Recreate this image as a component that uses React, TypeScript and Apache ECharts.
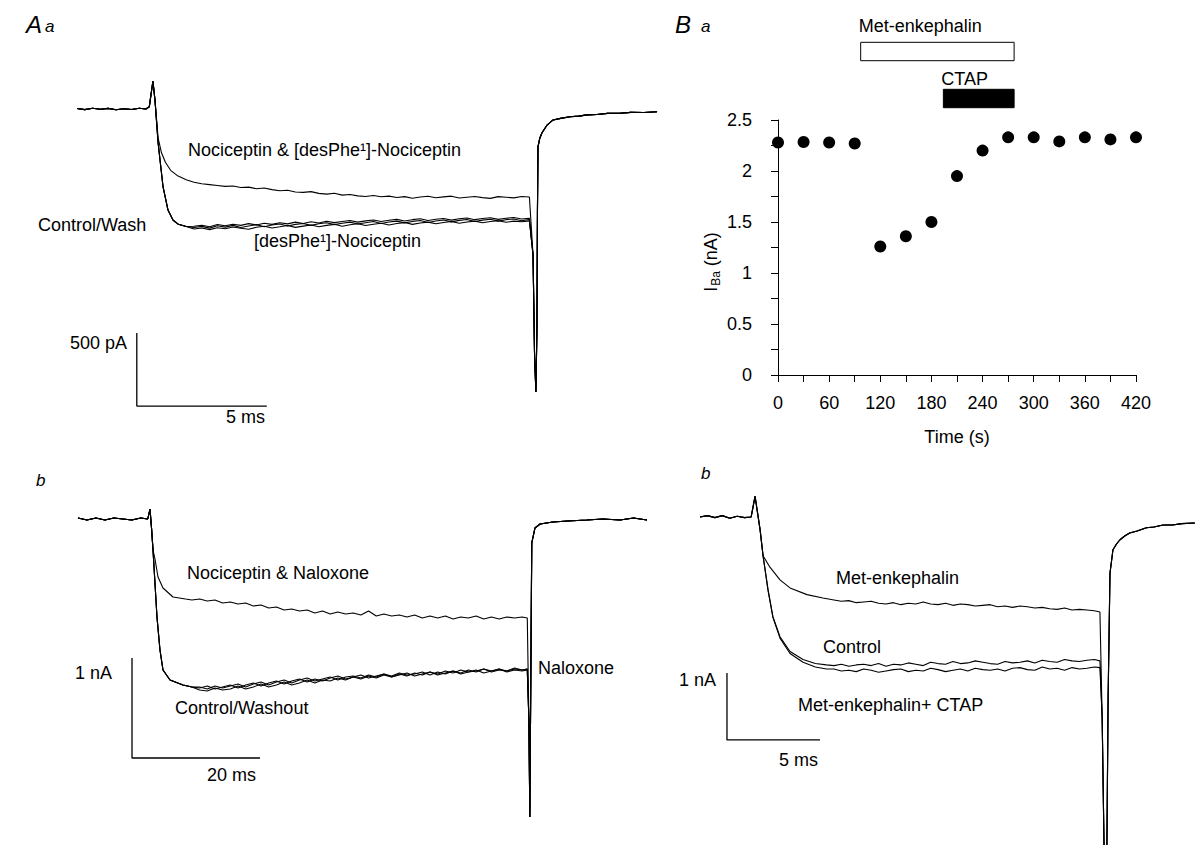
import React, { useEffect, useRef } from 'react';
import * as echarts from 'echarts';

const FONT = '"Liberation Sans", Arial, Helvetica, sans-serif';
const INK = '#000';

// ---------- Panel Ba: I_Ba (nA) vs time (s) ----------
const baTime = [0, 30, 60, 90, 120, 150, 180, 210, 240, 270, 300, 330, 360, 390, 420];
const baCurrent = [2.28, 2.285, 2.28, 2.27, 1.26, 1.36, 1.5, 1.95, 2.2, 2.33, 2.33, 2.29, 2.33, 2.31, 2.33];
const baDrugs = ['Met-enkephalin', 'CTAP'];
const baDrugStart = [97, 194];
const baDrugEnd = [277, 277];
const baDrugFilled = [false, true];

// ---------- Panel Aa: time (ms), current (pA) ----------
const aaPre = [[0, 3], [0.3, -4], [0.6, 5], [0.9, -2], [1.2, 4], [1.5, -5], [1.8, 2], [2.1, -3], [2.4, 5], [2.65, 0], [2.78, 15], [2.92, 192], [3.0, 60]];
const aaLowerFall = [[3.12, -233], [3.31, -534], [3.5, -692], [3.69, -760], [3.9, -790], [4.2, -805]];
const aaUpperFall = [[3.12, -200], [3.25, -300], [3.4, -365], [3.6, -420], [3.85, -455], [4.2, -485]];
const aaT = [4.5, 4.8, 5.1, 5.4, 5.7, 6.0, 6.3, 6.6, 6.9, 7.2, 7.5, 7.8, 8.1, 8.4, 8.7, 9.0, 9.3, 9.6, 9.9, 10.2, 10.5, 10.8, 11.1, 11.4, 11.7, 12.0, 12.3, 12.6, 12.9, 13.2, 13.5, 13.8, 14.1, 14.4, 14.7, 15.0, 15.3, 15.6, 15.9, 16.2, 16.5, 16.8, 17.1, 17.4];
const aaNociceptin = [-502, -512, -518, -524, -530, -527, -538, -535, -546, -541, -552, -560, -556, -568, -571, -566, -578, -583, -577, -590, -586, -595, -599, -592, -601, -597, -606, -600, -611, -603, -598, -608, -602, -597, -610, -604, -599, -607, -612, -600, -604, -609, -599, -603];
const aaControl = [-812, -804, -816, -800, -809, -797, -812, -801, -792, -806, -795, -788, -801, -790, -784, -797, -786, -779, -792, -783, -775, -788, -779, -771, -784, -774, -768, -780, -770, -764, -777, -767, -760, -773, -763, -757, -770, -761, -755, -768, -758, -753, -765, -757];
const aaWash = [-822, -815, -826, -813, -820, -808, -817, -824, -810, -803, -815, -807, -798, -811, -802, -795, -807, -797, -790, -803, -793, -786, -798, -789, -782, -794, -784, -778, -790, -781, -775, -786, -777, -771, -783, -774, -768, -779, -771, -765, -776, -768, -772, -766];
const aaDesPhe = [-803, -796, -807, -791, -800, -789, -797, -785, -794, -782, -790, -779, -787, -775, -784, -772, -781, -769, -778, -771, -764, -775, -766, -760, -771, -762, -756, -767, -758, -752, -764, -755, -750, -761, -752, -747, -758, -750, -745, -756, -748, -743, -753, -749];
const aaTail = [[17.54, -1000], [17.6, -1700], [17.65, -1939], [17.69, -1500], [17.71, -700], [17.73, -260], [17.8, -200], [17.88, -164], [18.08, -110], [18.31, -75], [18.6, -64], [18.96, -53], [19.3, -49], [19.62, -40], [20.0, -38], [20.4, -30], [20.88, -29], [21.3, -23], [21.8, -24], [22.31, -19]];
const aaScale = { t: 2.3, i: -2035, dt: 5, di: 500 };

// ---------- Panel Ab: time (ms), current (nA) ----------
const abPre = [[0, 0.01], [1.4, -0.01], [2.8, 0.01], [4.2, -0.01], [5.6, 0.01], [7.0, 0.0], [8.4, -0.01], [9.8, 0.01], [10.9, 0.0], [11.25, 0.1], [11.5, -0.1], [11.72, -0.31]];
const abLowerFall = [[12.34, -0.98], [12.81, -1.31], [13.28, -1.51], [14.38, -1.61], [16.4, -1.66], [17.8, -1.68]];
const abUpperFall = [[12.03, -0.4], [12.5, -0.58], [13.28, -0.69], [14.84, -0.78], [16.8, -0.8], [17.8, -0.81]];
const abT = [19.0, 20.2, 21.4, 22.6, 23.8, 25.0, 26.2, 27.4, 28.6, 29.8, 31.0, 32.2, 33.4, 34.6, 35.8, 37.0, 38.2, 39.4, 40.6, 41.8, 43.0, 44.2, 45.4, 46.6, 47.8, 49.0, 50.2, 51.4, 52.6, 53.8, 55.0, 56.2, 57.4, 58.6, 59.8, 61.0, 62.2, 63.4, 64.6, 65.8, 67.0, 68.2, 69.4, 70.2];
const abNocNal = [-0.8, -0.82, -0.81, -0.84, -0.83, -0.85, -0.84, -0.87, -0.86, -0.89, -0.88, -0.91, -0.9, -0.92, -0.91, -0.94, -0.92, -0.95, -0.93, -0.95, -0.94, -0.96, -0.92, -0.97, -0.95, -0.97, -0.96, -0.98, -0.96, -0.99, -0.97, -0.99, -0.97, -1.0, -0.98, -0.99, -0.97, -1.0, -0.98, -1.0, -0.98, -0.99, -0.98, -0.99];
const abControl = [-1.69, -1.67, -1.7, -1.68, -1.66, -1.69, -1.66, -1.64, -1.67, -1.64, -1.62, -1.65, -1.62, -1.6, -1.63, -1.6, -1.62, -1.59, -1.57, -1.6, -1.58, -1.56, -1.59, -1.57, -1.55, -1.58, -1.56, -1.54, -1.57, -1.55, -1.53, -1.56, -1.54, -1.52, -1.55, -1.53, -1.51, -1.54, -1.52, -1.5, -1.53, -1.51, -1.52, -1.51];
const abWashout = [-1.71, -1.72, -1.69, -1.71, -1.7, -1.67, -1.7, -1.68, -1.65, -1.68, -1.66, -1.63, -1.66, -1.64, -1.61, -1.64, -1.61, -1.62, -1.59, -1.61, -1.58, -1.6, -1.57, -1.59, -1.56, -1.58, -1.55, -1.57, -1.54, -1.56, -1.53, -1.55, -1.52, -1.54, -1.51, -1.53, -1.52, -1.5, -1.53, -1.51, -1.52, -1.5, -1.51, -1.5];
const abNaloxone = [-1.68, -1.7, -1.67, -1.69, -1.67, -1.65, -1.68, -1.65, -1.63, -1.66, -1.63, -1.61, -1.64, -1.61, -1.59, -1.62, -1.6, -1.58, -1.61, -1.58, -1.57, -1.59, -1.56, -1.58, -1.55, -1.57, -1.54, -1.56, -1.55, -1.53, -1.56, -1.53, -1.55, -1.52, -1.54, -1.51, -1.53, -1.5, -1.52, -1.5, -1.52, -1.49, -1.51, -1.5];
const abTail = [[70.45, -2.0], [70.6, -2.98], [70.75, -1.6], [70.9, -0.24], [71.4, -0.09], [72.2, -0.05], [74.2, -0.03], [76.5, -0.02], [79.5, -0.01], [82.0, 0.0], [84.7, -0.01], [86.8, 0.01], [88.9, -0.01]];
const abScale = { t: 8.44, i: -2.39, dt: 20, di: 1 };

// ---------- Panel Bb: time (ms), current (nA) ----------
const bbPre = [[0, 0.0], [0.4, 0.02], [0.8, -0.01], [1.2, 0.02], [1.6, -0.02], [2.0, 0.01], [2.4, -0.01], [2.75, 0.0], [2.96, 0.31], [3.1, 0.05], [3.23, -0.19], [3.39, -0.58]];
const bbControlFall = [[3.66, -1.09], [3.92, -1.49], [4.3, -1.79], [4.84, -2.01], [5.54, -2.13], [6.2, -2.19], [6.8, -2.21]];
const bbCtapFall = [[3.66, -1.1], [3.92, -1.5], [4.3, -1.81], [4.84, -2.04], [5.54, -2.17], [6.2, -2.24], [6.8, -2.27]];
const bbMetFall = [[3.76, -0.75], [4.3, -0.94], [4.84, -1.06], [5.75, -1.16], [6.61, -1.21]];
const bbT = [7.2, 7.6, 8.0, 8.4, 8.8, 9.2, 9.6, 10.0, 10.4, 10.8, 11.2, 11.6, 12.0, 12.4, 12.8, 13.2, 13.6, 14.0, 14.4, 14.8, 15.2, 15.6, 16.0, 16.4, 16.8, 17.2, 17.6, 18.0, 18.4, 18.8, 19.2, 19.6, 20.0, 20.4, 20.8, 21.2, 21.5];
const bbMet = [-1.24, -1.26, -1.25, -1.28, -1.27, -1.26, -1.29, -1.3, -1.28, -1.31, -1.29, -1.3, -1.27, -1.3, -1.31, -1.29, -1.32, -1.3, -1.31, -1.33, -1.32, -1.31, -1.34, -1.33, -1.35, -1.33, -1.34, -1.36, -1.35, -1.37, -1.38, -1.36, -1.39, -1.38, -1.39, -1.4, -1.42];
const bbControl = [-2.22, -2.2, -2.23, -2.21, -2.2, -2.22, -2.19, -2.23, -2.2, -2.21, -2.18, -2.2, -2.22, -2.17, -2.19, -2.2, -2.16, -2.19, -2.18, -2.15, -2.17, -2.19, -2.2, -2.16, -2.18, -2.17, -2.15, -2.18, -2.14, -2.16, -2.17, -2.13, -2.15, -2.16, -2.14, -2.13, -2.15];
const bbMetCtap = [-2.27, -2.3, -2.29, -2.31, -2.27, -2.29, -2.32, -2.3, -2.28, -2.27, -2.31, -2.29, -2.3, -2.26, -2.28, -2.31, -2.29, -2.27, -2.3, -2.26, -2.28, -2.29, -2.27, -2.3, -2.26, -2.25, -2.28, -2.29, -2.24, -2.27, -2.26, -2.29, -2.25, -2.27, -2.26, -2.24, -2.25];
const bbTail = [[21.62, -3.0], [21.72, -4.9], [21.78, -5.4], [21.86, -5.4], [21.94, -2.7], [22.04, -0.84], [22.2, -0.49], [22.4, -0.4], [22.58, -0.34], [22.85, -0.28], [23.1, -0.24], [23.5, -0.21], [24.0, -0.16], [24.4, -0.15], [24.9, -0.12], [25.4, -0.12], [25.9, -0.1], [26.6, -0.09]];
const bbScale = { t: 1.45, i: -3.33, dt: 5, di: 1 };

const zip = (ts: number[], vs: number[]) => ts.map((t, k) => [t, vs[k]]);

function trace(idx: number, data: number[][], width = 1.1) {
  return {
    type: 'line',
    xAxisIndex: idx,
    yAxisIndex: idx,
    data,
    showSymbol: false,
    symbol: 'none',
    silent: true,
    clip: false,
    lineStyle: { color: INK, width },
  };
}

function scaleBar(idx: number, s: { t: number; i: number; dt: number; di: number }) {
  return trace(idx, [[s.t, s.i + s.di], [s.t, s.i], [s.t + s.dt, s.i]], 1.3);
}

function txt(x: number, y: number, text: string, extra: any = {}) {
  return {
    type: 'text',
    x,
    y,
    silent: true,
    style: {
      text,
      fill: INK,
      fontSize: 18,
      fontFamily: FONT,
      align: 'left',
      verticalAlign: 'middle',
      ...extra,
    },
  };
}

export default function App() {
  const ref = useRef<HTMLDivElement>(null);

  useEffect(() => {
    if (!ref.current) return;
    const chart = echarts.init(ref.current, null, { renderer: 'svg' });

    const hidden = { show: false };
    const axisStyle = {
      axisLine: { show: true, lineStyle: { color: INK, width: 1 } },
      axisTick: { show: true, length: 7, inside: false, lineStyle: { color: INK, width: 1 } },
      splitLine: { show: false },
    };

    const option: any = {
      animation: false,
      backgroundColor: '#fff',
      grid: [
        { left: 77, top: 65.2, width: 585, height: 350.4 },
        { left: 778, top: 120, width: 358, height: 255 },
        { left: 778, top: 28, width: 358, height: 94 },
        { left: 78, top: 469, width: 576, height: 360 },
        { left: 700, top: 476.8, width: 494.8, height: 368.2 },
      ],
      xAxis: [
        { gridIndex: 0, type: 'value', min: 0, max: 22.5, ...hidden },
        {
          gridIndex: 1,
          type: 'value',
          min: 0,
          max: 420,
          interval: 30,
          ...axisStyle,
          axisLabel: {
            color: INK,
            fontSize: 18,
            fontFamily: FONT,
            margin: 19,
            formatter: (v: number) => (v % 60 === 0 ? String(v) : ''),
          },
          name: 'Time (s)',
          nameLocation: 'middle',
          nameGap: 53,
          nameTextStyle: { color: INK, fontSize: 18, fontFamily: FONT },
        },
        { gridIndex: 2, type: 'value', min: 0, max: 420, ...hidden },
        { gridIndex: 3, type: 'value', min: 0, max: 90, ...hidden },
        { gridIndex: 4, type: 'value', min: 0, max: 26.6, ...hidden },
      ],
      yAxis: [
        { gridIndex: 0, type: 'value', min: -2100, max: 300, ...hidden },
        {
          gridIndex: 1,
          type: 'value',
          min: 0,
          max: 2.5,
          interval: 0.5,
          ...axisStyle,
          minorTick: { show: true, splitNumber: 2, length: 7, lineStyle: { color: INK, width: 1 } },
          minorSplitLine: { show: false },
          axisLabel: { color: INK, fontSize: 18, fontFamily: FONT, margin: 26 },
        },
        { gridIndex: 2, type: 'category', data: baDrugs, inverse: true, ...hidden },
        { gridIndex: 3, type: 'value', min: -3.1, max: 0.5, ...hidden },
        { gridIndex: 4, type: 'value', min: -4.9, max: 0.6, ...hidden },
      ],
      series: [
        // Aa
        trace(0, [...aaPre, ...aaUpperFall, ...zip(aaT, aaNociceptin), ...aaTail]),
        trace(0, [...aaPre, ...aaLowerFall, ...zip(aaT, aaControl), ...aaTail]),
        trace(0, [...aaPre, ...aaLowerFall, ...zip(aaT, aaWash), ...aaTail]),
        trace(0, [...aaPre, ...aaLowerFall, ...zip(aaT, aaDesPhe), ...aaTail]),
        scaleBar(0, aaScale),
        // Ba
        {
          type: 'scatter',
          xAxisIndex: 1,
          yAxisIndex: 1,
          data: zip(baTime, baCurrent),
          symbol: 'circle',
          symbolSize: 12,
          silent: true,
          itemStyle: { color: INK, opacity: 1 },
        },
        {
          type: 'custom',
          xAxisIndex: 2,
          yAxisIndex: 2,
          silent: true,
          data: baDrugs.map((_, k) => [baDrugStart[k], baDrugEnd[k], k]),
          renderItem: (params: any, api: any) => {
            const k = api.value(2);
            const s = api.coord([api.value(0), k]);
            const e = api.coord([api.value(1), k]);
            const h = 18.4;
            const lift = k === 0 ? 25.5 : 20;
            return {
              type: 'group',
              children: [
                {
                  type: 'rect',
                  shape: { x: s[0], y: s[1] - h / 2, width: e[0] - s[0], height: h },
                  style: { fill: baDrugFilled[k] ? INK : '#fff', stroke: INK, lineWidth: 1 },
                },
                {
                  type: 'text',
                  x: s[0] - 2,
                  y: s[1] - lift,
                  style: {
                    text: baDrugs[k],
                    fill: INK,
                    fontSize: 18,
                    fontFamily: FONT,
                    align: 'left',
                    verticalAlign: 'middle',
                  },
                },
              ],
            };
          },
        },
        // Ab
        trace(3, [...abPre, ...abUpperFall, ...zip(abT, abNocNal), ...abTail]),
        trace(3, [...abPre, ...abLowerFall, ...zip(abT, abControl), ...abTail]),
        trace(3, [...abPre, ...abLowerFall, ...zip(abT, abWashout), ...abTail]),
        trace(3, [...abPre, ...abLowerFall, ...zip(abT, abNaloxone), ...abTail]),
        scaleBar(3, abScale),
        // Bb
        trace(4, [...bbPre, ...bbMetFall, ...zip(bbT, bbMet), ...bbTail]),
        trace(4, [...bbPre, ...bbControlFall, ...zip(bbT, bbControl), ...bbTail]),
        trace(4, [...bbPre, ...bbCtapFall, ...zip(bbT, bbMetCtap), ...bbTail]),
        scaleBar(4, bbScale),
      ],
      graphic: [
        // panel letters
        txt(26, 24, 'A', { fontSize: 24, fontStyle: 'italic' }),
        txt(45, 26, 'a', { fontSize: 17, fontStyle: 'italic' }),
        txt(675, 24, 'B', { fontSize: 24, fontStyle: 'italic' }),
        txt(701, 26, 'a', { fontSize: 17, fontStyle: 'italic' }),
        txt(36, 480, 'b', { fontSize: 17, fontStyle: 'italic' }),
        txt(701, 473, 'b', { fontSize: 17, fontStyle: 'italic' }),
        // Aa
        txt(188, 150, 'Nociceptin & [desPhe¹]-Nociceptin'),
        txt(38, 225, 'Control/Wash'),
        txt(254, 241, '[desPhe¹]-Nociceptin'),
        txt(127, 343, '500 pA', { align: 'right' }),
        txt(265, 417, '5 ms', { align: 'right' }),
        // Ba y-axis name
        {
          type: 'text',
          x: 711,
          y: 262,
          rotation: Math.PI / 2,
          silent: true,
          style: {
            text: '{n|I}{s|Ba}{n| (nA)}',
            fill: INK,
            fontSize: 18,
            fontFamily: FONT,
            align: 'center',
            verticalAlign: 'middle',
            rich: {
              n: { fontSize: 18, fontFamily: FONT, fill: INK },
              s: { fontSize: 12, fontFamily: FONT, fill: INK, padding: [9, 0, 0, 1] },
            },
          },
        },
        // Ab
        txt(187, 573, 'Nociceptin & Naloxone'),
        txt(175, 708, 'Control/Washout'),
        txt(538, 668, 'Naloxone'),
        txt(112, 673, '1 nA', { align: 'right' }),
        txt(256, 775, '20 ms', { align: 'right' }),
        // Bb
        txt(836, 578, 'Met-enkephalin'),
        txt(823, 647, 'Control'),
        txt(798, 705, 'Met-enkephalin+ CTAP'),
        txt(716, 680, '1 nA', { align: 'right' }),
        txt(818, 760, '5 ms', { align: 'right' }),
      ],
    };

    chart.setOption(option);
    return () => chart.dispose();
  }, []);

  return (
    <div
      ref={ref}
      style={{ position: 'fixed', left: 0, top: 0, width: 1195, height: 845, background: '#fff' }}
    />
  );
}
